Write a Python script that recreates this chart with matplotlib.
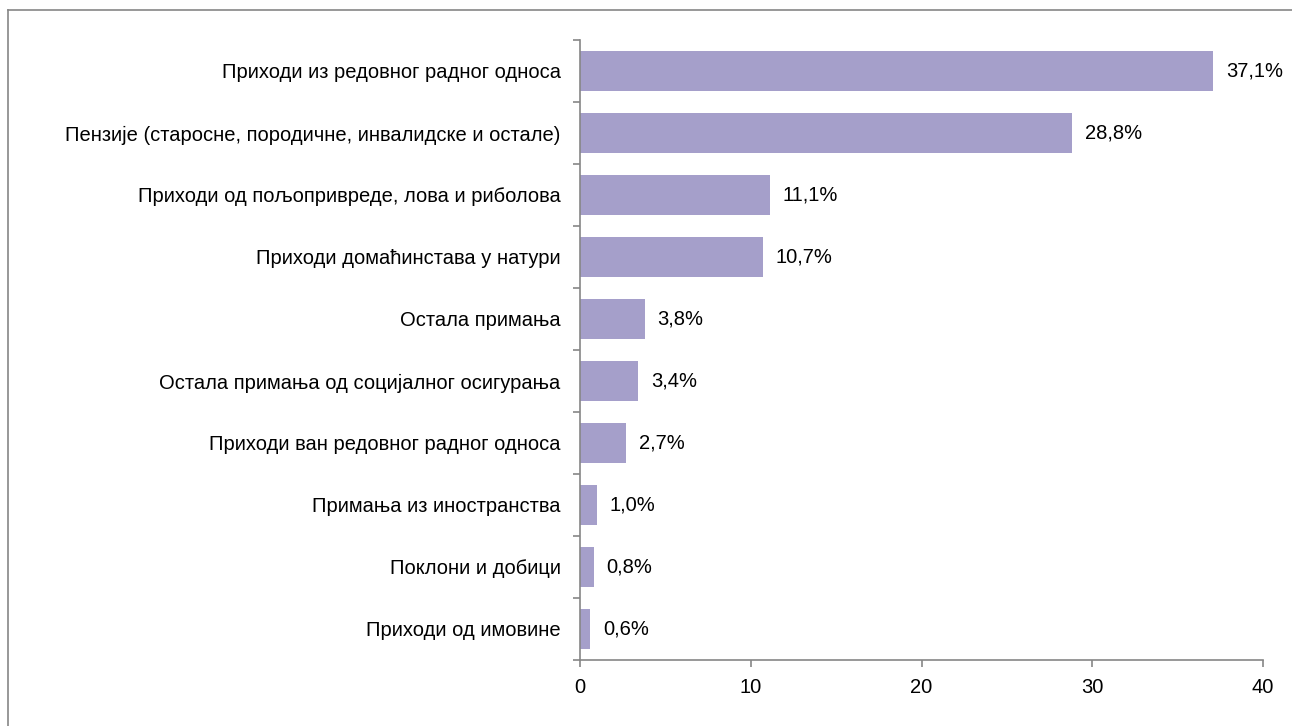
import numpy as np
import matplotlib

matplotlib.use('Agg')

import matplotlib.pyplot as plt
from matplotlib.lines import Line2D

plt.rcParams['font.family'] = ['Liberation Sans', 'DejaVu Sans']

categories = [
    "Приходи из редовног радног односа",
    "Пензије (старосне, породичне, инвалидске и остале)",
    "Приходи од пољопривреде, лова и риболова",
    "Приходи домаћинстава у натури",
    "Остала примања",
    "Остала примања од социјалног осигурања",
    "Приходи ван редовног радног односа",
    "Примања из иностранства",
    "Поклони и добици",
    "Приходи од имовине",
]
values = [37.1, 28.8, 11.1, 10.7, 3.8, 3.4, 2.7, 1.0, 0.8, 0.6]
xticks = [0, 10, 20, 30, 40]

bar_color = "#a59fca"
axis_color = "#868686"
fs = 14.5

def plot_income():
    fig = plt.figure(figsize=(12.92, 7.26), dpi=100)
    ax = fig.add_axes([580 / 1292, 1 - 660 / 726, 683 / 1292, 620 / 726])

    y = np.arange(len(categories))
    ax.barh(y, values, height=0.65, color=bar_color)
    ax.set_ylim(len(categories) - 0.5, -0.5)
    ax.set_xlim(0, 40)

    for yi, v in zip(y, values):
        ax.text(v + 0.75, yi, f"{v:.1f}%".replace(".", ","), va="center", ha="left",
                fontsize=fs, color="black")

    ax.set_yticks(y)
    ax.set_yticklabels(categories, fontsize=fs)
    ax.tick_params(axis="y", length=0, pad=14)
    ax.set_yticks(np.arange(len(categories) + 1) - 0.5, minor=True)
    ax.tick_params(axis="y", which="minor", length=5, color=axis_color, width=1.2)

    ax.set_xticks(xticks)
    ax.set_xticklabels([str(t) for t in xticks], fontsize=fs)
    ax.tick_params(axis="x", length=5, color=axis_color, width=1.2, pad=8)

    for s in ["top", "right"]:
        ax.spines[s].set_visible(False)
    for s in ["left", "bottom"]:
        ax.spines[s].set_color(axis_color)
        ax.spines[s].set_linewidth(1.2)

    # outer chart border (left and top edges visible)
    fig.add_artist(Line2D([8 / 1292, 8 / 1292], [0, 1 - 10 / 726], transform=fig.transFigure,
                          color=axis_color, lw=1.2))
    fig.add_artist(Line2D([8 / 1292, 1], [1 - 10 / 726, 1 - 10 / 726], transform=fig.transFigure,
                          color=axis_color, lw=1.2))

    fig.savefig("out.png", dpi=100)

plot_income()
